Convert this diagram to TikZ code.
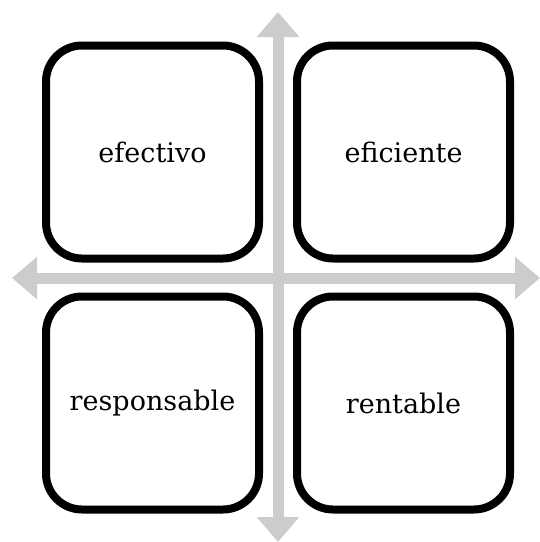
\documentclass[tikz,border=0pt]{standalone}
\usepackage{fontspec}
\setmainfont{DejaVu Serif}
\usetikzlibrary{arrows.meta}
\tikzset{
  quad/.style={draw,line width=8pt,rounded corners=36pt,minimum size=213pt,
    inner sep=0pt,font=\fontsize{27}{32}\selectfont},
  axis/.style={draw=black!20,line width=11pt,
    {Triangle[width=41pt,length=25pt]}-{Triangle[width=41pt,length=25pt]}}
}
\begin{document}
\begin{tikzpicture}[x=1pt,y=-1pt]
  \useasboundingbox (0,0) rectangle (540,542);
  \coordinate (top) at (278,12);
  \coordinate (bottom) at (278,542);
  \coordinate (left) at (12,278);
  \coordinate (right) at (540,278);
  \draw[axis] (top) -- (bottom);
  \draw[axis] (left) -- (right);
  \node[quad] (efectivo) at (152.5,152) {efectivo};
  \node[quad] (eficiente) at (403.5,152) {eficiente};
  \node[quad] (responsable) at (152.5,403) {responsable};
  \node[quad] (rentable) at (403.5,403) {rentable};
\end{tikzpicture}
\end{document}
